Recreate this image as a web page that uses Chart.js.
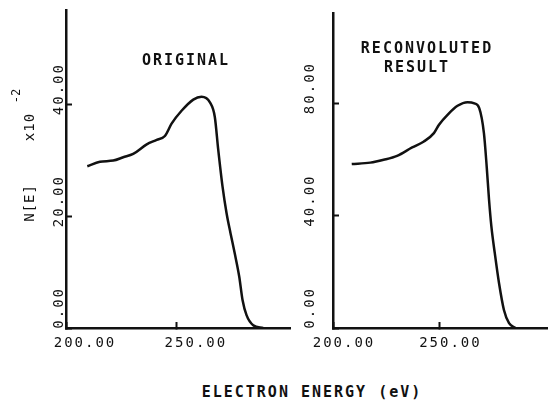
<!DOCTYPE html>
<html>
<head>
<meta charset="utf-8">
<script src="https://cdn.jsdelivr.net/npm/chart.js@4.4.0/dist/chart.umd.min.js"></script>
<style>
  html, body { margin: 0; padding: 0; background: #fff; }
  body { width: 548px; height: 400px; position: relative; overflow: hidden; }
  canvas { position: absolute; top: 0; }
  #original { left: 0; }
  #reconvoluted { left: 300px; }
  #xtitle {
    position: absolute; left: 0; width: 624px; top: 385px;
    text-align: center; white-space: nowrap;
    font: bold 15px/15px "DejaVu Sans Mono", monospace;
    letter-spacing: 2px; color: #111;
  }
</style>
</head>
<body>
<canvas id="original" width="300" height="360"></canvas>
<canvas id="reconvoluted" width="248" height="360"></canvas>
<div id="xtitle">ELECTRON ENERGY (eV)</div>
<script>
// values (energy in eV, N[E] in units of 10^2)
const energyOriginal = [209.6, 215.3, 221.3, 225.8, 230.3, 236.4, 240.9, 244.6, 247.6, 252.1, 257.4,
  261.1, 264.9, 267.1, 268.6, 270.6, 272.4, 274.2, 276.1, 278.1, 279.6, 281.4, 284.4, 288.9];
const countsOriginal = [28.9, 29.7, 29.9, 30.5, 31.1, 32.8, 33.6, 34.3, 36.5, 38.8, 40.8,
  41.3, 40.3, 37.7, 32.0, 25.2, 20.5, 16.9, 13.3, 9.2, 5.0, 2.3, 0.5, 0.0];

const energyReconvoluted = [208.8, 217.5, 223.8, 230.1, 237.2, 242.7, 247.4, 249.8, 253.8, 258.5, 263.2,
  266.4, 268.7, 270.9, 272.2, 273.3, 274.4, 276.0, 278.0, 280.3, 282.7, 285.8];
const countsReconvoluted = [58.3, 58.8, 59.8, 61.2, 64.2, 66.3, 69.3, 72.3, 75.8, 79.0, 80.3,
  79.9, 78.2, 69.3, 57.4, 45.6, 36.1, 26.6, 15.9, 6.4, 1.7, 0.0];

const energyTicks = [200, 250];
const countTicksOriginal = [0, 20, 40];
const countTicksReconvoluted = [0, 40, 80];

const MONO = '"DejaVu Sans Mono", "Liberation Mono", monospace';
const INK = "#111";

// plotter-style lettering: wide spacing on every label
const spacing = {
  id: "spacing",
  beforeDraw(chart) {
    chart.ctx.letterSpacing = "2px";
  },
};

const captions = {
  id: "captions",
  afterDraw(chart, args, opts) {
    const ctx = chart.ctx;
    ctx.save();
    ctx.fillStyle = INK;
    ctx.textAlign = "center";
    ctx.textBaseline = "middle";
    for (const t of opts.items || []) {
      ctx.save();
      ctx.font = t.font;
      ctx.letterSpacing = t.spacing || "2px";
      ctx.translate(t.x, t.y);
      if (t.rotate) ctx.rotate(-Math.PI / 2);
      ctx.fillText(t.text, 0, 0);
      ctx.restore();
    }
    ctx.restore();
  },
};

// fixed axis boxes, no overflow padding, so the plot frame lands where the original has it
const fixBox = (size, key) => (s) => {
  s[key] = size;
  s.paddingTop = s.paddingBottom = s.paddingLeft = s.paddingRight = 0;
};

function panel(el, xs, ys, yTicks, yMax, o) {
  return new Chart(el, {
    type: "line",
    data: {
      datasets: [
        {
          data: xs.map((x, i) => ({ x, y: ys[i] })),
          borderColor: INK,
          borderWidth: 2.5,
          pointRadius: 0,
          cubicInterpolationMode: "monotone",
          fill: false,
        },
      ],
    },
    options: {
      responsive: false,
      animation: false,
      layout: { padding: o.padding, autoPadding: false },
      plugins: {
        legend: { display: false },
        tooltip: { enabled: false },
        captions: { items: o.captions },
      },
      scales: {
        x: {
          type: "linear",
          min: 200,
          max: 301,
          afterBuildTicks: (s) => { s.ticks = energyTicks.map((v) => ({ value: v })); },
          afterFit: fixBox(32, "height"),
          border: { color: INK, width: 2.5 },
          grid: { drawOnChartArea: false, tickLength: -6, tickWidth: 2, color: INK },
          ticks: {
            color: INK,
            font: { family: MONO, size: 14 },
            padding: 13,
            labelOffset: o.xLabelOffset,
            maxRotation: 0,
            autoSkip: false,
            callback: (v) => v.toFixed(2),
          },
        },
        y: {
          type: "linear",
          min: 0,
          max: yMax,
          afterBuildTicks: (s) => { s.ticks = yTicks.map((v) => ({ value: v })); },
          afterFit: fixBox(o.yWidth, "width"),
          border: { color: INK, width: 2.5 },
          grid: { drawOnChartArea: false, tickLength: -6, tickWidth: 2, color: INK },
          ticks: {
            color: INK,
            font: { family: MONO, size: 14 },
            minRotation: 90,
            maxRotation: 90,
            padding: o.yPad,
            labelOffset: -41,
            autoSkip: false,
            callback: (v) => v.toFixed(2),
          },
        },
      },
    },
    plugins: [spacing, captions],
  });
}

panel(document.getElementById("original"), energyOriginal, countsOriginal, countTicksOriginal, 56.8, {
  padding: { top: 10, right: 10, left: 0, bottom: 0 },
  yWidth: 66,
  yPad: 13,
  xLabelOffset: 19,
  captions: [
    { text: "ORIGINAL", x: 186, y: 61, font: `bold 15px ${MONO}` },
    { text: "N[E]", x: 30, y: 203, rotate: true, font: `14px ${MONO}`, spacing: "1px" },
    { text: "x10", x: 30, y: 127, rotate: true, font: `14px ${MONO}`, spacing: "1px" },
    { text: "-2", x: 17, y: 96, rotate: true, font: `12px ${MONO}`, spacing: "0px" },
  ],
});

panel(document.getElementById("reconvoluted"), energyReconvoluted, countsReconvoluted, countTicksReconvoluted, 112, {
  padding: { top: 13, right: 0, left: 0, bottom: 0 },
  yWidth: 33,
  yPad: 29,
  xLabelOffset: 11,
  captions: [
    { text: "RECONVOLUTED", x: 127, y: 49, font: `bold 15px ${MONO}` },
    { text: "RESULT", x: 117, y: 68, font: `bold 15px ${MONO}` },
  ],
});
</script>
</body>
</html>
